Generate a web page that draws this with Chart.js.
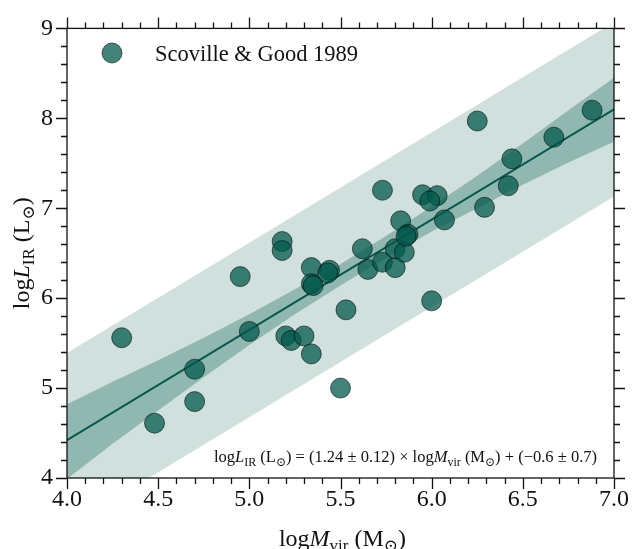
<!DOCTYPE html>
<html>
<head>
<meta charset="utf-8">
<script src="https://cdn.jsdelivr.net/npm/chart.js@4/dist/chart.umd.min.js"></script>
<style>
  body { margin: 0; background: #fff; }
  #wrap { width: 636px; height: 549px; position: relative; }
</style>
</head>
<body>
<div id="wrap"><canvas id="c"></canvas></div>
<script>
// data
const sampleName = "Scoville & Good 1989";
const logMvir = [4.30, 4.48, 4.70, 4.70, 4.95, 5.00, 5.18, 5.18, 5.20, 5.23, 5.30, 5.34, 5.34, 5.35, 5.34, 5.44, 5.43, 5.50, 5.53, 5.62,
                 5.65, 5.73, 5.73, 5.80, 5.83, 5.80, 5.85, 5.87, 5.86, 5.95, 6.03, 5.99, 6.00, 6.07, 6.25, 6.29, 6.42, 6.44, 6.67, 6.88];
const logLir  = [5.56, 4.61, 5.21, 4.85, 6.24, 5.63, 6.63, 6.53, 5.58, 5.53, 5.58, 6.34, 6.16, 6.14, 5.38, 6.31, 6.28, 5.00, 5.87, 6.55,
                 6.32, 7.20, 6.40, 6.34, 6.86, 6.55, 6.51, 6.71, 6.69, 7.15, 7.14, 7.08, 5.97, 6.87, 7.97, 7.01, 7.25, 7.55, 7.79, 8.09];

// fit line and bands
const fitX = [4.0, 7.0];
const fitY = [4.42, 8.10];
const slope = [1.24, 0.12];
const intercept = [-0.6, 0.7];
const bandX      = [4.0, 4.25, 4.5, 4.75, 5.0, 5.25, 5.5, 5.75, 6.0, 6.25, 6.5, 6.75, 7.0];
const innerUpper = [4.82, 5.07, 5.31, 5.56, 5.82, 6.10, 6.38, 6.69, 7.02, 7.36, 7.72, 8.09, 8.45];
const innerLower = [3.99, 4.38, 4.75, 5.12, 5.48, 5.82, 6.14, 6.45, 6.74, 7.00, 7.26, 7.51, 7.74];
const outerX = [4.0, 7.0];
const outerUpper = [5.39, 9.07];
const outerLower = [3.45, 7.13];

const xTicks = [4.0, 4.5, 5.0, 5.5, 6.0, 6.5, 7.0];
const yTicks = [4, 5, 6, 7, 8, 9];

const teal = 'rgba(0,89,76,1)';
const pointFill = 'rgba(0,89,76,0.74)';
const pointEdge = 'rgba(0,0,0,0.55)';
const serif = '"Liberation Serif", "DejaVu Serif", serif';

const pts = (xs, ys) => xs.map((x, i) => ({x: x, y: ys[i]}));

// draws text pieces: r = roman, i = italic, s = subscript
function fontFor(kind, size) {
    if (kind === 'i') return 'italic ' + size + 'px ' + serif;
    if (kind === 's') return Math.round(size * 0.7) + 'px ' + serif;
    return size + 'px ' + serif;
}
function richWidth(ctx, parts, size) {
    let w = 0;
    parts.forEach(p => { ctx.font = fontFor(p[1], size); w += ctx.measureText(p[0]).width; });
    return w;
}
function drawRich(ctx, parts, x, y, size, align) {
    let w = richWidth(ctx, parts, size);
    let cx = align === 'center' ? x - w / 2 : align === 'right' ? x - w : x;
    ctx.textBaseline = 'alphabetic';
    ctx.textAlign = 'left';
    parts.forEach(p => {
        ctx.font = fontFor(p[1], size);
        ctx.fillText(p[0], cx, p[1] === 's' ? y + size * 0.22 : y);
        cx += ctx.measureText(p[0]).width;
    });
}

const extras = {
    id: 'extras',
    afterDraw(chart) {
        const ctx = chart.ctx, a = chart.chartArea;
        const xs = chart.scales.x, ys = chart.scales.y;
        ctx.save();
        ctx.strokeStyle = '#111';
        ctx.lineWidth = 1.3;
        // frame
        ctx.strokeRect(a.left, a.top, a.right - a.left, a.bottom - a.top);
        // ticks, all pointing out
        ctx.beginPath();
        for (let i = 0; i <= 30; i++) {
            const v = 4 + i * 0.1, px = Math.round(xs.getPixelForValue(v)) + 0.5;
            const len = i % 5 === 0 ? 11 : 6;
            ctx.moveTo(px, a.bottom); ctx.lineTo(px, a.bottom + len);
            ctx.moveTo(px, a.top); ctx.lineTo(px, a.top - len);
        }
        for (let i = 0; i <= 25; i++) {
            const v = 4 + i * 0.2, py = Math.round(ys.getPixelForValue(v)) + 0.5;
            const len = i % 5 === 0 ? 11 : 6;
            ctx.moveTo(a.left, py); ctx.lineTo(a.left - len, py);
            ctx.moveTo(a.right, py); ctx.lineTo(a.right + len, py);
        }
        ctx.stroke();

        ctx.fillStyle = '#111';
        // axis titles
        drawRich(ctx, [['log', 'r'], ['M', 'i'], ['vir', 's'], [' (M', 'r'], ['⊙', 's'], [')', 'r']],
            (a.left + a.right) / 2 + 2, 546, 24, 'center');
        ctx.save();
        ctx.translate(29, (a.top + a.bottom) / 2);
        ctx.rotate(-Math.PI / 2);
        drawRich(ctx, [['log', 'r'], ['L', 'i'], ['IR', 's'], [' (L', 'r'], ['⊙', 's'], [')', 'r']],
            0, 0, 24, 'center');
        ctx.restore();

        // fit equation
        drawRich(ctx, [['log', 'r'], ['L', 'i'], ['IR', 's'], [' (L', 'r'], ['⊙', 's'],
            [') = (' + slope[0].toFixed(2) + ' ± ' + slope[1].toFixed(2) + ') × log', 'r'],
            ['M', 'i'], ['vir', 's'], [' (M', 'r'], ['⊙', 's'],
            [') + (−' + Math.abs(intercept[0]).toFixed(1) + ' ± ' + intercept[1].toFixed(1) + ')', 'r']],
            597, 462, 16.5, 'right');

        // legend
        ctx.beginPath();
        ctx.arc(112, 53, 10, 0, Math.PI * 2);
        ctx.fillStyle = pointFill; ctx.fill();
        ctx.strokeStyle = pointEdge; ctx.lineWidth = 1; ctx.stroke();
        ctx.fillStyle = '#111';
        ctx.font = '22.5px ' + serif;
        ctx.textAlign = 'left'; ctx.textBaseline = 'alphabetic';
        ctx.fillText(sampleName, 155, 61);
        ctx.restore();
    }
};

new Chart(document.getElementById('c'), {
    type: 'scatter',
    data: {
        datasets: [
            { label: sampleName, data: pts(logMvir, logLir), backgroundColor: pointFill, borderColor: pointEdge,
              borderWidth: 1, pointRadius: 10, pointHoverRadius: 10 },
            { type: 'line', data: pts(fitX, fitY), borderColor: teal, borderWidth: 2, pointRadius: 0, fill: false },
            { type: 'line', data: pts(bandX, innerUpper), borderWidth: 0, pointRadius: 0,
              backgroundColor: 'rgba(0,89,76,0.30)', fill: 3 },
            { type: 'line', data: pts(bandX, innerLower), borderWidth: 0, pointRadius: 0, fill: false },
            { type: 'line', data: pts(outerX, outerUpper), borderWidth: 0, pointRadius: 0,
              backgroundColor: 'rgba(0,89,76,0.19)', fill: 5 },
            { type: 'line', data: pts(outerX, outerLower), borderWidth: 0, pointRadius: 0, fill: false }
        ]
    },
    options: {
        responsive: true,
        maintainAspectRatio: false,
        animation: false,
        events: [],
        layout: { padding: { left: 0, right: 17, top: 21, bottom: 0 } },
        plugins: { legend: { display: false }, tooltip: { enabled: false } },
        scales: {
            x: {
                type: 'linear', min: 4, max: 7,
                afterBuildTicks: s => { s.ticks = xTicks.map(v => ({value: v})); },
                afterFit: s => { s.height = 71; },
                grid: { display: false, drawTicks: false },
                border: { display: false },
                ticks: { padding: 7, color: '#111', font: { family: serif, size: 24 },
                         callback: v => v.toFixed(1), maxRotation: 0 }
            },
            y: {
                type: 'linear', min: 4, max: 9,
                afterBuildTicks: s => { s.ticks = yTicks.map(v => ({value: v})); },
                afterFit: s => { s.width = 67; },
                grid: { display: false, drawTicks: false },
                border: { display: false },
                ticks: { padding: 14, color: '#111', font: { family: serif, size: 24 },
                         callback: v => String(v) }
            }
        }
    },
    plugins: [extras]
});
</script>
</body>
</html>
